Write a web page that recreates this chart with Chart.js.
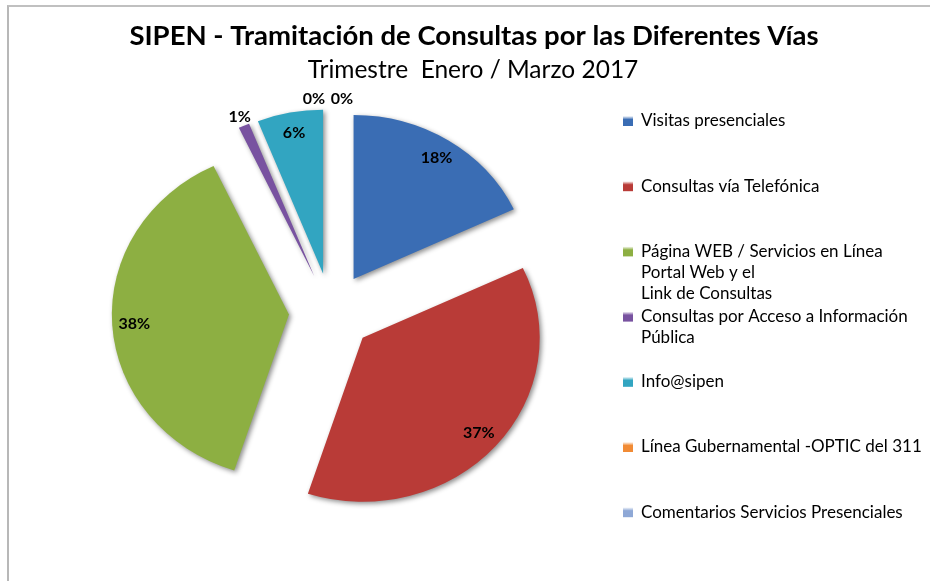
<!DOCTYPE html>
<html>
<head>
<meta charset="utf-8">
<title>SIPEN - Tramitación de Consultas</title>
<script src="https://cdn.jsdelivr.net/npm/chart.js@4.4.1/dist/chart.umd.min.js"></script>
<style>
html, body { margin: 0; padding: 0; background: #fff; overflow: hidden; }
#wrap { position: relative; width: 930px; height: 581px; }
#frame { position: absolute; left: 7px; top: 5px; width: 940px; height: 600px;
         border-top: 2px solid #c0c0c0; border-left: 2px solid #b8b8b8; }
#pieChart { position: absolute; left: 0; top: 0; }
</style>
</head>
<body>
<div id="wrap">
  <div id="frame"></div>
  <canvas id="pieChart" width="930" height="581"></canvas>
</div>
<script>
// chart data
var chartTitle = "SIPEN - Tramitación de Consultas por las Diferentes Vías";
var chartSubtitle = "Trimestre  Enero / Marzo 2017";

var categories = [
    ["Visitas presenciales"],
    ["Consultas vía Telefónica"],
    ["Página WEB / Servicios en Línea", "Portal Web y el", "Link de Consultas"],
    ["Consultas por Acceso a Información", "Pública"],
    ["Info@sipen"],
    ["Línea Gubernamental -OPTIC del 311"],
    ["Comentarios Servicios Presenciales"]
];
var percentages = [18, 37, 38, 1, 6, 0, 0];
var percentLabels = ["18%", "37%", "38%", "1%", "6%", "0%", "0%"];

var sliceColors = ["#3A6DB4", "#B93B37", "#8DAF42", "#7852A0", "#32A5C1", "#F18B35", "#8EA8D6"];

// look of the exploded pie
var explode = 39;
var stretchX = 1.08;
var FONT = "Lato, 'Open Sans', sans-serif";

function arcGeometry(arc) {
    var mid = (arc.startAngle + arc.endAngle) / 2;
    return {
        mid: mid,
        ax: arc.x + Math.cos(mid) * explode * stretchX,
        ay: arc.y + Math.sin(mid) * explode
    };
}

var explodedPie = {
    id: 'explodedPie',
    beforeDatasetDraw: function(chart, args) {
        var ctx = chart.ctx;
        var arcs = args.meta.data;
        var cx = arcs[0].x, cy = arcs[0].y;
        ctx.save();
        ctx.translate(cx, cy);
        ctx.scale(stretchX, 1);
        ctx.translate(-cx, -cy);
        arcs.forEach(function(arc) {
            if (arc.circumference === 0) return;
            var mid = (arc.startAngle + arc.endAngle) / 2;
            ctx.save();
            ctx.translate(Math.cos(mid) * explode, Math.sin(mid) * explode);
            ctx.shadowColor = 'rgba(0,0,0,0.45)';
            ctx.shadowBlur = 5;
            ctx.shadowOffsetX = 2;
            ctx.shadowOffsetY = 2;
            arc.draw(ctx);
            ctx.restore();
        });
        ctx.restore();
        return false;
    },
    afterDatasetsDraw: function(chart) {
        var ctx = chart.ctx;
        var arcs = chart.getDatasetMeta(0).data;
        var zeroCount = 0;
        var zeroTotal = percentages.filter(function(v) { return v === 0; }).length;
        ctx.save();
        ctx.font = "bold 16px " + FONT;
        ctx.fillStyle = "#000";
        ctx.textAlign = "center";
        ctx.textBaseline = "middle";
        arcs.forEach(function(arc, i) {
            var g = arcGeometry(arc);
            var r = arc.outerRadius;
            var x, y;
            if (percentages[i] >= 5) {
                x = g.ax + Math.cos(g.mid) * r * 0.875 * stretchX;
                y = g.ay + Math.sin(g.mid) * r * 0.875;
            } else {
                x = g.ax + Math.cos(g.mid) * (r + 10) * stretchX;
                y = g.ay + Math.sin(g.mid) * (r + 10);
                if (percentages[i] === 0) {
                    x += (zeroCount - (zeroTotal - 1) / 2) * 28 - 3;
                    zeroCount++;
                }
            }
            ctx.fillText(percentLabels[i], x, y);
        });
        ctx.restore();
    },
    afterDraw: function(chart) {
        var ctx = chart.ctx;
        ctx.save();
        ctx.fillStyle = "#000";
        ctx.textBaseline = "middle";
        ctx.textAlign = "center";
        ctx.font = "bold 27.5px " + FONT;
        ctx.fillText(chartTitle, 474, 36);
        ctx.font = "24.5px " + FONT;
        ctx.fillText(chartSubtitle, 473, 70);

        // legend
        ctx.textAlign = "left";
        ctx.font = "17px " + FONT;
        var top = 121, step = 65.2, lineH = 21;
        categories.forEach(function(lines, i) {
            var y = top + i * step;
            var grad = ctx.createLinearGradient(0, y - 5, 0, y + 5);
            grad.addColorStop(0, "#ffffff");
            grad.addColorStop(0.35, sliceColors[i]);
            grad.addColorStop(1, sliceColors[i]);
            ctx.fillStyle = grad;
            ctx.fillRect(623, y - 5, 10, 10);
            ctx.fillStyle = "#000";
            lines.forEach(function(line, k) {
                ctx.fillText(line, 641, y + k * lineH);
            });
        });
        ctx.restore();
    }
};

var ctx = document.getElementById('pieChart').getContext('2d');

var sipenChart = new Chart(ctx, {
    type: 'pie',
    data: {
        labels: categories,
        datasets: [{
            data: percentages,
            backgroundColor: sliceColors,
            borderWidth: 0,
            radius: 164
        }]
    },
    options: {
        responsive: false,
        animation: false,
        layout: {
            padding: { left: 131, right: 399, top: 112, bottom: 69 }
        },
        plugins: {
            legend: { display: false },
            tooltip: { enabled: false }
        }
    },
    plugins: [explodedPie]
});
</script>
</body>
</html>
